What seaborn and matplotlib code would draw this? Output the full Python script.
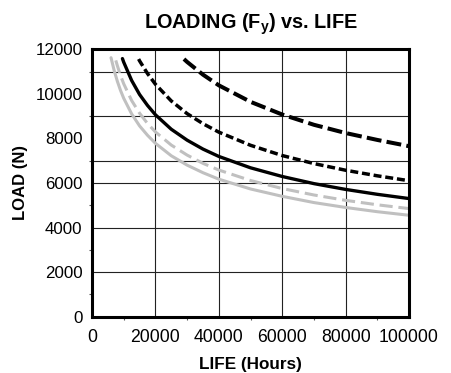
import matplotlib
matplotlib.use("Agg")
import matplotlib.pyplot as plt
import seaborn as sns
from matplotlib.ticker import MultipleLocator

# -----------------------------
# Data (life in hours, load in N)
# -----------------------------
grey_solid_life = [6000, 7000, 8000, 9000, 10000, 12500, 15000, 17500, 20000, 25000,
                   30000, 35000, 40000, 50000, 60000, 70000, 80000, 90000, 100000]
grey_solid_load = [11620, 11040, 10560, 10150, 9800, 9100, 8560, 8140, 7780, 7220,
                   6800, 6460, 6170, 5730, 5400, 5120, 4900, 4710, 4550]

grey_dash_life = [7500, 8000, 9000, 10000, 12500, 15000, 17500, 20000, 25000, 30000,
                  35000, 40000, 50000, 60000, 70000, 80000, 90000, 100000]
grey_dash_load = [11500, 11260, 10820, 10450, 9700, 9130, 8670, 8290, 7700, 7250,
                  6880, 6580, 6110, 5750, 5460, 5220, 5020, 4850]

black_solid_life = [9600, 10000, 12500, 15000, 17500, 20000, 25000, 30000, 35000,
                    40000, 50000, 60000, 70000, 80000, 90000, 100000]
black_solid_load = [11580, 11420, 10600, 9970, 9480, 9060, 8410, 7920, 7520,
                    7190, 6680, 6290, 5970, 5710, 5490, 5300]

short_dash_life = [14700, 15000, 17500, 20000, 25000, 30000, 35000, 40000, 50000,
                   60000, 70000, 80000, 90000, 100000]
short_dash_load = [11560, 11480, 10910, 10430, 9680, 9110, 8660, 8280, 7690,
                   7230, 6870, 6570, 6320, 6100]

long_dash_life = [29000, 30000, 35000, 40000, 50000, 60000, 70000, 80000, 90000, 100000]
long_dash_load = [11560, 11430, 10860, 10380, 9640, 9070, 8610, 8240, 7930, 7650]

x_ticks = [0, 20000, 40000, 60000, 80000, 100000]
y_ticks = [0, 2000, 4000, 6000, 8000, 10000, 12000]

# horizontal rules as drawn on the original sheet
h_rules = [2000, 4000, 6000, 7000, 9000, 11000]
v_rules = [20000, 40000, 60000, 80000]

# -----------------------------
# Style
# -----------------------------
sns.set_theme(style="white")
plt.rcParams["font.family"] = ["Liberation Sans", "DejaVu Sans"]
plt.rcParams["mathtext.fontset"] = "custom"
plt.rcParams["mathtext.rm"] = "Liberation Sans:bold"
plt.rcParams["mathtext.it"] = "Liberation Sans:bold"
plt.rcParams["mathtext.bf"] = "Liberation Sans:bold"
plt.rcParams["text.color"] = "black"
plt.rcParams["axes.labelcolor"] = "black"
plt.rcParams["xtick.color"] = "black"
plt.rcParams["ytick.color"] = "black"

fig = plt.figure(figsize=(4.51, 3.73), dpi=100)
ax = fig.add_axes([0.204, 0.151, 0.703, 0.717])

for v in v_rules:
    ax.axvline(v, color="#222222", lw=0.8, zorder=1)
for h in h_rules:
    ax.axhline(h, color="#222222", lw=0.8, zorder=1)

grey = "#c0c0c0"
sns.lineplot(x=grey_solid_life, y=grey_solid_load, ax=ax, color=grey, lw=2.2, zorder=3)
sns.lineplot(x=grey_dash_life, y=grey_dash_load, ax=ax, color=grey, lw=2.2,
             linestyle=(0, (4.3, 1.9)), zorder=3)
sns.lineplot(x=black_solid_life, y=black_solid_load, ax=ax, color="black", lw=2.4, zorder=4)
sns.lineplot(x=short_dash_life, y=short_dash_load, ax=ax, color="black", lw=2.5,
             linestyle=(0, (2.3, 1.1)), zorder=4)
sns.lineplot(x=long_dash_life, y=long_dash_load, ax=ax, color="black", lw=2.9,
             linestyle=(0, (3.7, 1.3)), zorder=4)

ax.set_xlim(0, 100000)
ax.set_ylim(0, 12000)
ax.set_xticks(x_ticks)
ax.set_yticks(y_ticks)
ax.set_xticklabels([str(t) for t in x_ticks])
ax.set_yticklabels([str(t) for t in y_ticks])
ax.xaxis.set_minor_locator(MultipleLocator(10000))
ax.yaxis.set_minor_locator(MultipleLocator(1000))
ax.tick_params(axis="x", which="major", length=0, pad=9, labelsize=12.7)
ax.tick_params(axis="y", which="major", length=0, pad=7, labelsize=12.2)
ax.tick_params(which="minor", length=2.5, width=0.8, direction="out", color="#555555",
               bottom=True, left=True)

for s in ax.spines.values():
    s.set_color("black")
    s.set_linewidth(2.2)
    s.set_zorder(5)

ax.set_title("LOADING (F$_{y}$) vs. LIFE", fontsize=14.3, fontweight="bold", pad=15)
ax.set_xlabel("LIFE (Hours)", fontsize=12.3, fontweight="bold", labelpad=8)
ax.set_ylabel("LOAD (N)", fontsize=12, fontweight="bold", labelpad=5)

fig.savefig("out.png", dpi=100)
